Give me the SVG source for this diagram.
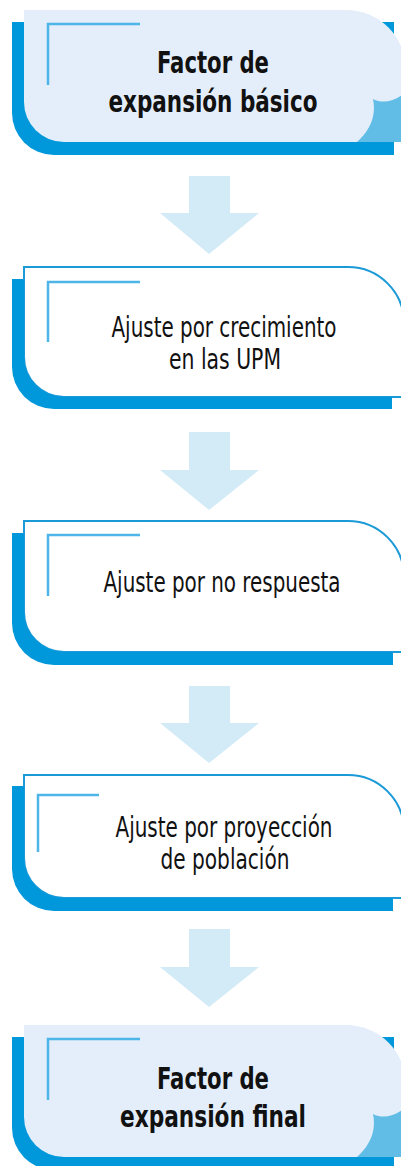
<svg xmlns="http://www.w3.org/2000/svg" width="401" height="1166" viewBox="0 0 401 1166">
<defs>
<style>
.bg{fill:#ffffff}
.blue{fill:#0098DA}
.light{fill:#E3EEFA}
.outl{fill:#ffffff;stroke:#1B9AD8;stroke-width:2}
.curl{fill:#62BDE6}
.brk{fill:none;stroke:#4DB5E7;stroke-width:2.5}
.arrow{fill:#D3EAF7}
.t{font-family:"Liberation Sans Narrow","DejaVu Sans Condensed","Liberation Sans",sans-serif;fill:#111111;text-anchor:middle}
.b{font-weight:bold;font-size:31px}
.r{font-size:28px}
</style>
</defs>
<rect class="bg" x="0" y="0" width="401" height="1166"/>
<g id="connectors">
<polygon class="arrow" points="189,176 230,176 230,213 259,213 209,254 160,213 189,213"/>
<polygon class="arrow" points="189,432 230,432 230,470 259,470 209,510 160,470 189,470"/>
<polygon class="arrow" points="189,686 230,686 230,723 259,723 209,763 160,723 189,723"/>
<polygon class="arrow" points="189,929 230,929 230,967 259,967 209,1007 160,967 189,967"/>
</g>
<g id="node1">
<path class="blue" d="M12,22 H394 V155 H54 A42 42 0 0 1 12,113 Z"/>
<path class="light" d="M24,10 H346 A60 60 0 0 1 406,70 V142 H64 A40 40 0 0 1 24,102 Z"/>
<path class="curl" d="M357,142 C368,132 377,118 373,99 C383,104 393,101 402,95 L402,142 Z"/>
<path class="brk" d="M140,24 H48 V85"/>
<text class="t b" x="213" y="73" textLength="112" lengthAdjust="spacingAndGlyphs">Factor de</text>
<text class="t b" x="213" y="112" textLength="209" lengthAdjust="spacingAndGlyphs">expansión básico</text>
</g>
<g id="node2">
<path class="outl" d="M24,267 H348 A56 56 0 0 1 404,323 V397 H64 A40 40 0 0 1 24,357 Z"/>
<path class="blue" d="M12,279 H24 V357 A40 40 0 0 0 64,397 H392 V409 H54 A42 42 0 0 1 12,367 Z"/>
<path class="brk" d="M140,282 H48 V342"/>
<text class="t r" x="224" y="337" textLength="225" lengthAdjust="spacingAndGlyphs">Ajuste por crecimiento</text>
<text class="t r" x="225" y="369" textLength="112" lengthAdjust="spacingAndGlyphs">en las UPM</text>
</g>
<g id="node3">
<path class="outl" d="M24,521 H348 A56 56 0 0 1 404,577 V652 H64 A40 40 0 0 1 24,612 Z"/>
<path class="blue" d="M12,533 H24 V612 A40 40 0 0 0 64,652 H393 V665 H54 A42 42 0 0 1 12,623 Z"/>
<path class="brk" d="M140,535 H48 V596"/>
<text class="t r" x="222" y="592" textLength="237" lengthAdjust="spacingAndGlyphs">Ajuste por no respuesta</text>
</g>
<g id="node4">
<path class="outl" d="M24,775 H348 A56 56 0 0 1 404,831 V898 H64 A40 40 0 0 1 24,858 Z"/>
<path class="blue" d="M12,786 H24 V858 A40 40 0 0 0 64,898 H393 V911 H54 A42 42 0 0 1 12,869 Z"/>
<path class="brk" d="M99,795 H38 V852"/>
<text class="t r" x="224" y="837" textLength="217" lengthAdjust="spacingAndGlyphs">Ajuste por proyección</text>
<text class="t r" x="225" y="869" textLength="129" lengthAdjust="spacingAndGlyphs">de población</text>
</g>
<g id="node5">
<path class="blue" d="M12,1037 H394 V1170 H54 A42 42 0 0 1 12,1128 Z"/>
<path class="light" d="M24,1025 H346 A60 60 0 0 1 406,1085 V1157 H64 A40 40 0 0 1 24,1117 Z"/>
<path class="curl" d="M357,1157 C368,1147 377,1133 373,1114 C383,1119 393,1116 402,1110 L402,1157 Z"/>
<path class="brk" d="M140,1039 H48 V1100"/>
<text class="t b" x="213" y="1089" textLength="112" lengthAdjust="spacingAndGlyphs">Factor de</text>
<text class="t b" x="213" y="1127" textLength="186" lengthAdjust="spacingAndGlyphs">expansión final</text>
</g>
</svg>
